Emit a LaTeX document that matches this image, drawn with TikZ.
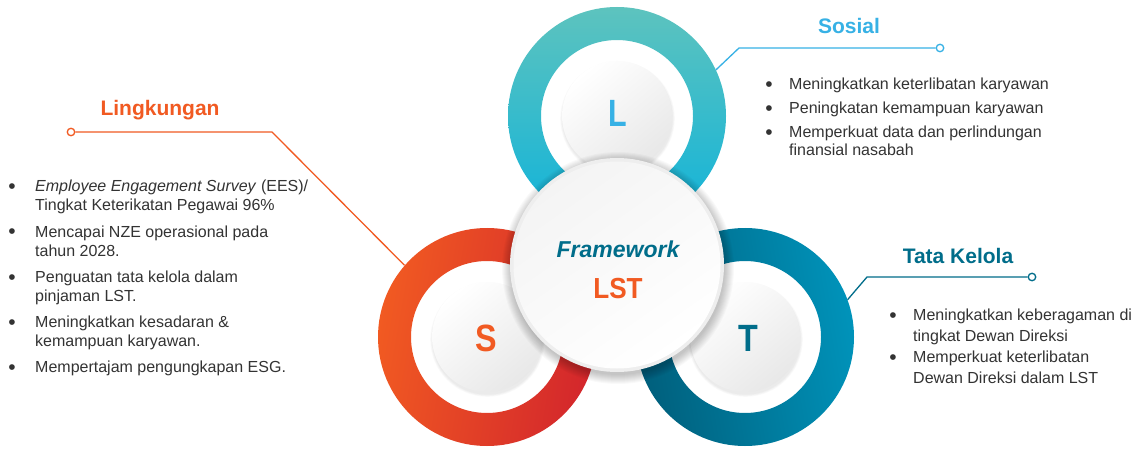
\documentclass[tikz,border=0pt]{standalone}
\usepackage{fontspec}
\setmainfont{Liberation Sans}
\definecolor{txt}{HTML}{333333}
\definecolor{sosc}{HTML}{37B1E5}
\definecolor{lingc}{HTML}{F15A22}
\definecolor{tatac}{HTML}{006D8A}
\definecolor{lA}{HTML}{5DC3BE}
\definecolor{lB}{HTML}{10B3DA}
\definecolor{sA}{HTML}{F15A22}
\definecolor{sB}{HTML}{D3262C}
\definecolor{tA}{HTML}{005F7C}
\definecolor{tB}{HTML}{0093BA}
\definecolor{discgrey}{HTML}{E8E8E8}
\definecolor{rimgrey}{HTML}{EEEEEE}
\definecolor{coretop}{HTML}{F4F4F4}
\begin{document}
\begin{tikzpicture}[x=1pt,y=-1pt,
  body/.style={anchor=base west, inner sep=0, font=\fontsize{16}{19}\selectfont, text=txt},
  dotb/.style={anchor=base, inner sep=0, yshift=-2pt, font=\fontsize{21}{21}\selectfont, text=txt},
  ttl/.style={anchor=base, inner sep=0, font=\fontsize{21}{24}\selectfont\bfseries},
  big/.style={anchor=base, inner sep=0, font=\fontsize{38}{40}\selectfont\bfseries},
  ringnode/.style={circle, inner sep=0, minimum size=218pt},
  conn/.style={line width=1.3pt},
  enddot/.style={circle, draw, fill=white, line width=1.3pt, inner sep=0, minimum size=7.5pt},
]
\useasboundingbox (0,0) rectangle (1135,449);
\fill[white] (0,0) rectangle (1135,449);

% ring anchors
\node[ringnode] (ringL) at (617,116) {};
\node[ringnode] (ringS) at (487,337) {};
\node[ringnode] (ringT) at (745,337) {};

% rings
\shade[even odd rule, top color=lA, bottom color=lB] (ringL.center) circle[radius=109pt] (ringL.center) circle[radius=76pt];
\shade[even odd rule, left color=sA, right color=sB, shading angle=80] (ringS.center) circle[radius=109pt] (ringS.center) circle[radius=76pt];
\shade[even odd rule, left color=tA, right color=tB, shading angle=100] (ringT.center) circle[radius=109pt] (ringT.center) circle[radius=76pt];

% inner discs
\foreach \r in {ringL,ringS,ringT}{
  \foreach \k in {1,...,4}{
    \fill[black, opacity=0.018] (\r.center) ++(0.5,2.5) circle[radius={54.5+\k*0.7}];
  }
  \shade[top color=white, bottom color=discgrey, shading angle=40] (\r.center) circle[radius=55pt];
}

% letters
\node[big, text=sosc] (letL) at (618,127) {\scalebox{0.8}[1]{L}};
\node[big, text=lingc] (letS) at (486,351) {\scalebox{0.85}[1]{S}};
\node[big, text=tatac] (letT) at (748,351) {\scalebox{0.85}[1]{T}};

% center circle with shadow
\foreach \i in {1,...,10}{
  \fill[black, opacity=0.025] (618,268) circle[radius={106+\i*1.0}];
}
\node[circle, inner sep=0, minimum size=214pt] (core) at (617,265) {};
\fill[rimgrey] (core.center) circle[radius=107pt];
\shade[top color=coretop, bottom color=white, shading angle=35] (core.center) circle[radius=103.5pt];
\node[anchor=base, inner sep=0, font=\fontsize{23}{26}\selectfont\bfseries\itshape, text=tatac] (fw) at (618,257) {Framework};
\node[anchor=base, inner sep=0, font=\fontsize{29}{32}\selectfont\bfseries, text=lingc] (lst) at (618,298) {\scalebox{0.9}[1]{LST}};

% connectors
\coordinate (sosK) at (739,48);
\node[enddot, draw=sosc] (sosDot) at (940,48) {};
\draw[conn, sosc] (ringL.25) -- (sosK) -- (sosDot);

\coordinate (lingK) at (272,132);
\node[enddot, draw=lingc] (lingDot) at (71,132) {};
\draw[conn, lingc] (ringS.139) -- (lingK) -- (lingDot);

\coordinate (tataK) at (867,277);
\node[enddot, draw=tatac] (tataDot) at (1032,277) {};
\draw[conn, tatac] (ringT.20) -- (tataK) -- (tataDot);

% titles
\node[ttl, text=sosc] (tSos) at (849,34) {Sosial};
\node[ttl, text=lingc] (tLing) at (160,116) {Lingkungan};
\node[ttl, text=tatac] (tTata) at (958,263) {Tata Kelola};

% Sosial list
\node[dotb] (sb1) at (769,90) {•};
\node[body] (s1) at (789,90) {Meningkatkan keterlibatan karyawan};
\node[dotb] (sb2) at (769,114) {•};
\node[body] (s2) at (789,114) {Peningkatan kemampuan karyawan};
\node[dotb] (sb3) at (769,138) {•};
\node[body] (s3) at (789,138) {Memperkuat data dan perlindungan};
\node[body] (s3b) at (789,156) {finansial nasabah};

% Lingkungan list
\node[dotb] (lb1) at (12,192) {•};
\node[body] (l1) at (35,192) {\textit{Employee Engagement Survey} (EES)/};
\node[body] (l1b) at (35,211) {Tingkat Keterikatan Pegawai 96\%};
\node[dotb] (lb2) at (12,237) {•};
\node[body] (l2) at (35,237) {Mencapai NZE operasional pada};
\node[body] (l2b) at (35,256) {tahun 2028.};
\node[dotb] (lb3) at (12,282) {•};
\node[body] (l3) at (35,282) {Penguatan tata kelola dalam};
\node[body] (l3b) at (35,301) {pinjaman LST.};
\node[dotb] (lb4) at (12,327) {•};
\node[body] (l4) at (35,327) {Meningkatkan kesadaran \&};
\node[body] (l4b) at (35,346) {kemampuan karyawan.};
\node[dotb] (lb5) at (12,372) {•};
\node[body] (l5) at (35,372) {Mempertajam pengungkapan ESG.};

% Tata Kelola list
\node[dotb] (tb1) at (893,320) {•};
\node[body] (t1) at (913,320) {Meningkatkan keberagaman di};
\node[body] (t1b) at (913,341) {tingkat Dewan Direksi};
\node[dotb] (tb2) at (893,362) {•};
\node[body] (t2) at (913,362) {Memperkuat keterlibatan};
\node[body] (t2b) at (913,383) {Dewan Direksi dalam LST};
\end{tikzpicture}
\end{document}
